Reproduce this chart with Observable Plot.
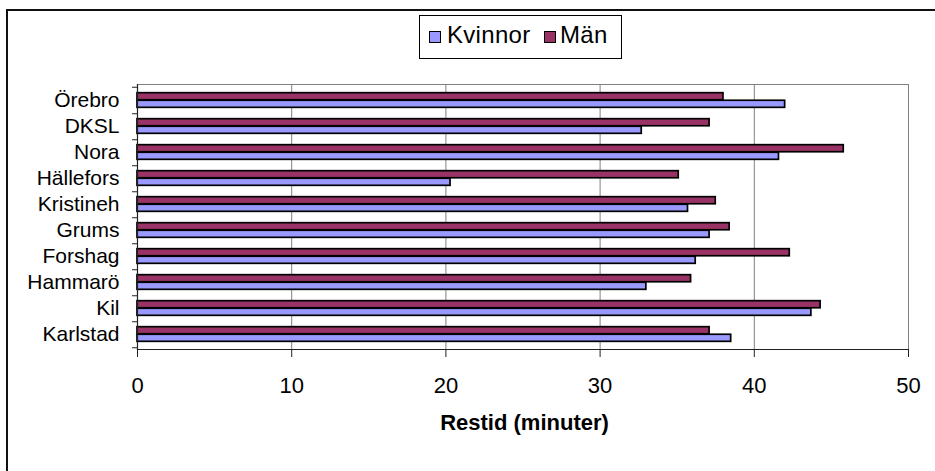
<!DOCTYPE html>
<html>
<head>
<meta charset="utf-8">
<script src="https://cdn.jsdelivr.net/npm/d3@7"></script>
<script src="https://cdn.jsdelivr.net/npm/@observablehq/plot@0.6"></script>
<style>
  html, body { margin: 0; padding: 0; background: #fff; }
  #wrap { position: relative; width: 935px; height: 471px; overflow: hidden;
          font-family: "Liberation Sans", Arial, sans-serif; }
  #frame { position: absolute; left: 6px; top: 9px; width: 960px; height: 500px;
           border-left: 2px solid #111; border-top: 2px solid #111; box-sizing: border-box; }
  #chart { position: absolute; left: 0; top: 0; }
  #legend { position: absolute; left: 419px; top: 15px; width: 203px; height: 44px;
            border: 1px solid #000; box-sizing: border-box; background: #fff; }
  .sw { position: absolute; width: 10px; height: 10px; border: 1.5px solid #000; }
  .lt { position: absolute; font-size: 24px; line-height: 24px; color: #000; white-space: nowrap;
        letter-spacing: 0.3px; }
</style>
</head>
<body>
<div id="wrap">
  <div id="frame"></div>
  <div id="chart"></div>
  <div id="legend"></div>
</div>
<script>
// Travel time per municipality, women and men (minutes)
const categories = ["Örebro", "DKSL", "Nora", "Hällefors", "Kristineh", "Grums", "Forshag", "Hammarö", "Kil", "Karlstad"];
const kvinnor = [42.0, 32.7, 41.6, 20.3, 35.7, 37.1, 36.2, 33.0, 43.7, 38.5];
const man = [38.0, 37.1, 45.8, 35.1, 37.5, 38.4, 42.3, 35.9, 44.3, 37.1];
const xTicks = [0, 10, 20, 30, 40, 50];
const seriesNames = ["Kvinnor", "Män"];
const seriesColors = ["#9999FF", "#993366"];
const xTitle = "Restid (minuter)";

const rows = categories.map((c, i) => ({city: c, kvinnor: kvinnor[i], man: man[i]}));

const W = 935, H = 471;
const mTop = 84, mBottom = 122, mLeft = 137, mRight = 27;
const band = (H - mTop - mBottom) / categories.length;
const barH = band / 3.5;         // two bars plus a 150% gap
const gap = (band - 2 * barH) / 2;

const chart = Plot.plot({
  width: W,
  height: H,
  marginTop: mTop,
  marginBottom: mBottom,
  marginLeft: mLeft,
  marginRight: mRight,
  style: {fontFamily: "'Liberation Sans', Arial, sans-serif", background: "transparent", color: "#000", overflow: "visible"},
  x: {domain: [0, 50]},
  y: {domain: categories, padding: 0},
  marks: [
    Plot.ruleX(xTicks.slice(1), {stroke: "#808080", strokeWidth: 1}),
    Plot.frame({anchor: "top", stroke: "#808080"}),
    Plot.barX(rows, {x: "man", y: "city", fill: seriesColors[1], stroke: "#000", strokeWidth: 1.7,
      insetTop: gap, insetBottom: gap + barH}),
    Plot.barX(rows, {x: "kvinnor", y: "city", fill: seriesColors[0], stroke: "#000", strokeWidth: 1.7,
      insetTop: gap + barH, insetBottom: gap}),
    Plot.frame({anchor: "bottom", stroke: "#222", strokeWidth: 1.2}),
    Plot.frame({anchor: "left", stroke: "#222", strokeWidth: 1.2}),
    Plot.axisX({ticks: xTicks, tickSize: 8, tickPadding: 20, fontSize: 22, label: null, stroke: "#222"}),
    // category boundary ticks
    Plot.axisY({tickSize: 5, dy: band / 2, tickFormat: () => "", label: null, stroke: "#222"}),
    Plot.axisY([categories[0]], {tickSize: 5, dy: -band / 2, tickFormat: () => "", label: null, stroke: "#222"}),
    Plot.axisY({tickSize: 0, tickPadding: 18, fontSize: 21, label: null}),
    Plot.text([xTitle], {text: d => d, frameAnchor: "bottom", dy: 80.5, dx: 1.5, fontSize: 22, fontWeight: "bold"})
  ]
});
document.getElementById("chart").appendChild(chart);

// Legend
const legend = document.getElementById("legend");
const items = [
  {name: seriesNames[0], color: seriesColors[0], sx: 9, tx: 27},
  {name: seriesNames[1], color: seriesColors[1], sx: 124, tx: 140}
];
for (const it of items) {
  const sw = document.createElement("div");
  sw.className = "sw";
  sw.style.left = it.sx + "px";
  sw.style.top = "15px";
  sw.style.background = it.color;
  legend.appendChild(sw);
  const t = document.createElement("div");
  t.className = "lt";
  t.style.left = it.tx + "px";
  t.style.top = "7px";
  t.textContent = it.name;
  legend.appendChild(t);
}
</script>
</body>
</html>
